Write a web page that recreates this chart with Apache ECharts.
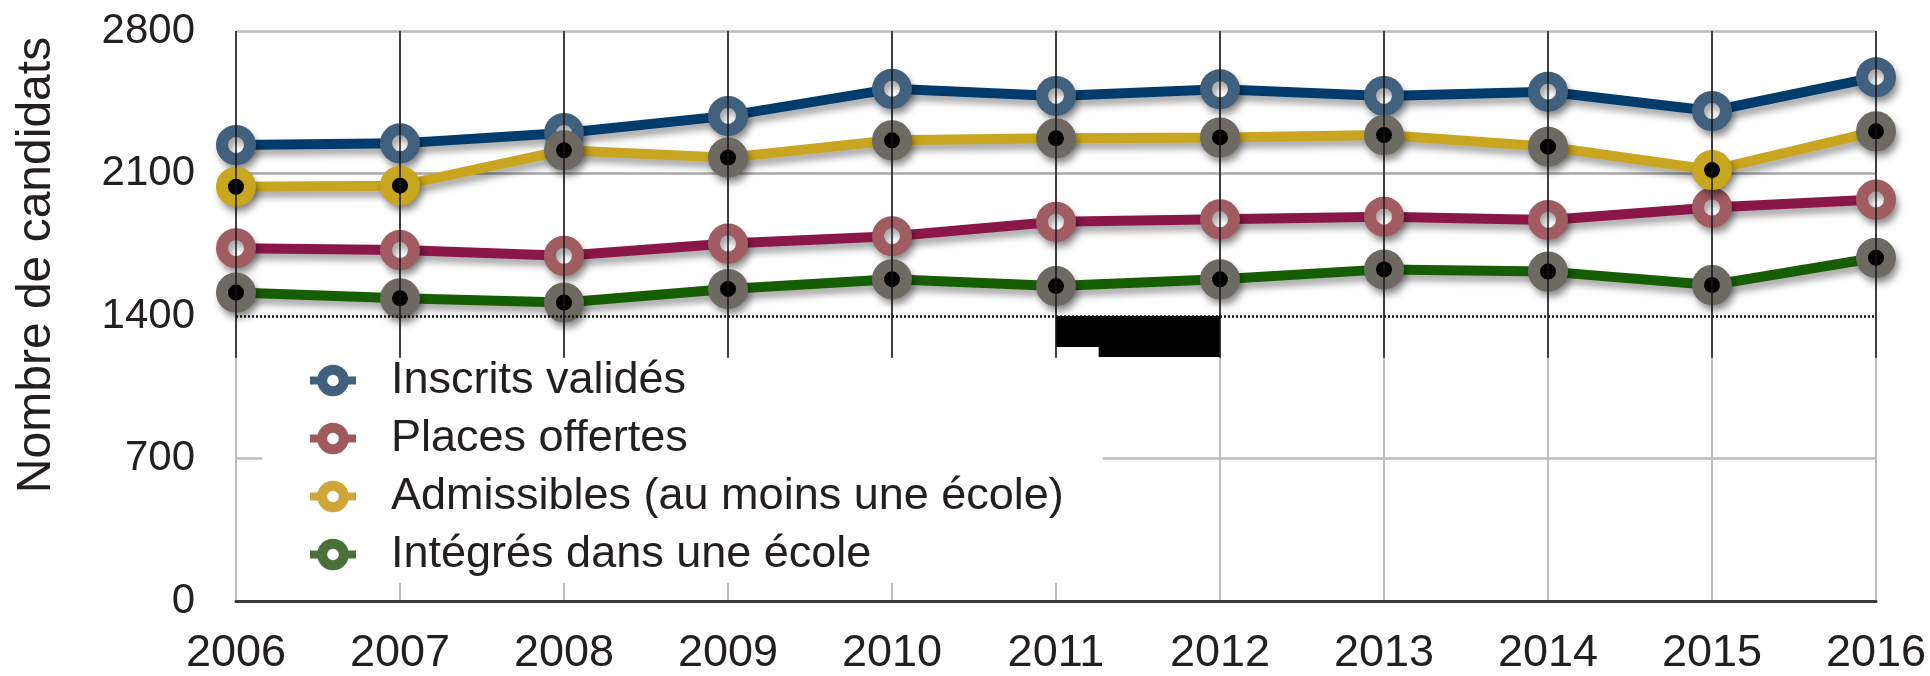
<!DOCTYPE html>
<html>
<head>
<meta charset="utf-8">
<script src="https://cdn.jsdelivr.net/npm/echarts@6/dist/echarts.min.js"></script>
<style>
  html, body { margin: 0; padding: 0; background: #fff; }
  #chart { width: 1930px; height: 676px; }
</style>
</head>
<body>
<div id="chart"></div>
<script>
// données
const years = [2006, 2007, 2008, 2009, 2010, 2011, 2012, 2013, 2014, 2015, 2016]
const yTicks = [0, 700, 1400, 2100, 2800]
const inscrits = [2240, 2248, 2299, 2383, 2516, 2481, 2514, 2481, 2502, 2407, 2573]
const places = [1733, 1724, 1696, 1756, 1792, 1863, 1875, 1888, 1872, 1933, 1972]
const admissibles = [2035, 2040, 2214, 2178, 2263, 2273, 2277, 2289, 2232, 2117, 2307]
const integres = [1515, 1487, 1466, 1533, 1581, 1547, 1580, 1629, 1618, 1552, 1686]
const names = ['Inscrits validés', 'Places offertes', 'Admissibles (au moins une école)', 'Intégrés dans une école']

const font = "'Liberation Sans', Arial, sans-serif"
const textColor = '#231f20'
const ditherGrey = '#6d6a64'
const shadow = {
  shadowColor: 'rgba(0,0,0,0.35)',
  shadowBlur: 7,
  shadowOffsetX: 3,
  shadowOffsetY: 6,
}

const toPoints = (arr) => arr.map((v, i) => [years[i], v])

function makeSeries(name, values, lineColor, ringColor, centerColor, ringFn) {
  return {
    name: name,
    type: 'line',
    data: toPoints(values).map((p, i) => ({
      value: p,
      itemStyle: { borderColor: ringFn ? ringFn(i) : ringColor },
    })),
    symbol: 'circle',
    symbolSize: 28,
    z: 3,
    lineStyle: Object.assign({ color: lineColor, width: 10 }, shadow),
    itemStyle: Object.assign({ color: centerColor, borderColor: ringColor, borderWidth: 12 }, shadow),
  }
}

const legendColors = ['#41607e', '#a05a5e', '#d0a53a', '#4a7038']

const chart = echarts.init(document.getElementById('chart'), null, { renderer: 'canvas' })
chart.setOption({
  animation: false,
  backgroundColor: '#fff',
  grid: { left: 236, right: 54, top: 31, bottom: 75 },
  xAxis: {
    type: 'value',
    min: years[0],
    max: years[years.length - 1],
    interval: 1,
    axisLine: { show: true, lineStyle: { color: '#3a3a3a', width: 3 } },
    axisTick: { show: false },
    axisLabel: {
      formatter: (v) => String(v),
      fontFamily: font,
      fontSize: 45,
      color: textColor,
      margin: 30,
    },
    splitLine: { show: true, lineStyle: { color: '#bdbdbd', width: 2 } },
  },
  yAxis: {
    type: 'value',
    min: yTicks[0],
    max: yTicks[yTicks.length - 1],
    interval: 700,
    axisLine: { show: false },
    axisTick: { show: false },
    axisLabel: {
      formatter: (v) => String(v),
      fontFamily: font,
      fontSize: 42,
      color: textColor,
      margin: 41,
    },
    splitLine: {
      show: true,
      lineStyle: { color: ['#3a3a3a', '#bdbdbd', 'rgba(0,0,0,0)', '#aaaaaa', '#bdbdbd'], width: 2.5 },
    },
  },
  legend: {
    orient: 'vertical',
    left: 262,
    top: 358,
    padding: [0, 39, 6, 44],
    backgroundColor: '#fff',
    itemGap: 13,
    itemWidth: 46,
    itemHeight: 27,
    selectedMode: false,
    textStyle: {
      fontFamily: font,
      fontSize: 45,
      lineHeight: 45,
      color: textColor,
      padding: [0, 0, 0, 30],
    },
    data: names.map((n, i) => ({
      name: n,
      itemStyle: { color: '#fff', borderColor: legendColors[i], borderWidth: 10, shadowBlur: 0, shadowOffsetX: 0, shadowOffsetY: 0 },
      lineStyle: { color: legendColors[i], width: 8, shadowBlur: 0, shadowOffsetX: 0, shadowOffsetY: 0 },
    })),
  },
  graphic: [
    {
      type: 'text',
      x: 37,
      y: 265,
      rotation: Math.PI / 2,
      style: {
        text: 'Nombre de candidats',
        fontFamily: font,
        fontSize: 48,
        fill: textColor,
        align: 'center',
        verticalAlign: 'middle',
      },
    },
  ],
  series: [
    // traits noirs et bloc noir du haut du graphique
    {
      name: 'decor',
      type: 'line',
      data: [],
      z: 1,
      silent: true,
      markLine: {
        silent: true,
        symbol: 'none',
        label: { show: false },
        data: years
          .map((y) => [
            { coord: [y, 2800], lineStyle: { color: '#151515', width: 1.5, type: 'solid' } },
            { coord: [y, 1195] },
          ])
          .concat([[
            { coord: [years[0], 1400], lineStyle: { color: '#111', width: 2.5, type: [2, 2] } },
            { coord: [years[years.length - 1], 1400] },
          ]]),
      },
      markArea: {
        silent: true,
        itemStyle: { color: '#000' },
        data: [
          [{ coord: [2011, 1400] }, { coord: [2012, 1248] }],
          [{ coord: [2011.26, 1248] }, { coord: [2012, 1198] }],
        ],
      },
    },
    makeSeries(names[0], inscrits, '#013c6c', '#41607e', '#fff'),
    makeSeries(names[1], places, '#8a1748', '#a05c60', '#fff'),
    makeSeries(names[2], admissibles, '#c9a61f', '#c9a61f', '#000', (i) => ([0, 1, 9].includes(i) ? '#c9a61f' : ditherGrey)),
    makeSeries(names[3], integres, '#155e02', ditherGrey, '#000'),
  ],
})
</script>
</body>
</html>
